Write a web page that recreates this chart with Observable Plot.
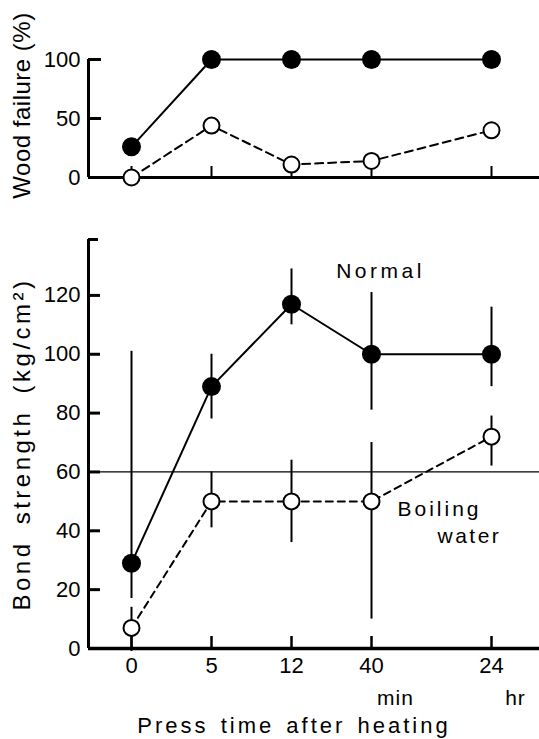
<!DOCTYPE html>
<html>
<head>
<meta charset="utf-8">
<script src="https://cdn.jsdelivr.net/npm/d3@7"></script>
<script src="https://cdn.jsdelivr.net/npm/@observablehq/plot@0.6"></script>
<style>
  html, body { margin: 0; padding: 0; background: #fff; }
  #chart { position: relative; width: 539px; height: 739px; background: #fff; }
  #chart svg { display: block; }
</style>
</head>
<body>
<div id="chart"></div>
<script>
// ---- data ----
const times = ["0", "5", "12", "40", "24"];
const units = ["", "", "", "min", "hr"];
const pos = [0, 1, 2, 3, 4.5];            // category slots (24 hr set apart)

const woodNormal  = [26, 100, 100, 100, 100];
const woodBoiling = [0, 44, 11, 14, 40];

const bondNormal      = [29, 89, 117, 100, 100];
const bondNormalLow   = [17, 78, 110, 81, 89];
const bondNormalHigh  = [101, 100, 129, 121, 116];
const bondBoiling     = [7, 50, 50, 50, 72];
const bondBoilingLow  = [-1, 41, 36, 10, 62];
const bondBoilingHigh = [14, 60, 64, 70, 79];

const refLine = 60;
const woodTicks = [0, 50, 100];
const bondTicks = [0, 20, 40, 60, 80, 100, 120];
const bondTop = 139;

const woodLabel = "Wood failure (%)";
const bondLabel = "Bond strength (kg/cm\u00B2)";
const xLabel = "Press time after heating";
const normalLabel = "Normal";
const boilingLabel = ["Boiling", "water"];

// ---- tables ----
const rows = times.map((t, i) => ({
  pos: pos[i], time: t, unit: units[i],
  woodN: woodNormal[i], woodB: woodBoiling[i],
  bondN: bondNormal[i], bondNLo: bondNormalLow[i], bondNHi: bondNormalHigh[i],
  bondB: bondBoiling[i], bondBLo: bondBoilingLow[i], bondBHi: bondBoilingHigh[i]
}));
const xDomain = [-0.5375, 5.1];
const font = "'Liberation Sans', Arial, sans-serif";
const tickLabel = d => times[pos.indexOf(d)];

const topPlot = Plot.plot({
  width: 539, height: 200,
  marginLeft: 88, marginRight: 0, marginTop: 59, marginBottom: 23,
  x: {domain: xDomain, label: null},
  y: {domain: [0, 100], label: null},
  style: {fontFamily: font, fontSize: "22px", color: "black", background: "white", overflow: "visible"},
  marks: [
    Plot.ruleX([xDomain[0]], {y1: 0, y2: 100, strokeWidth: 3}),
    Plot.ruleY([0], {strokeWidth: 3}),
    Plot.axisY({ticks: woodTicks, tickSize: 13, dx: 13, tickFormat: () => "", strokeWidth: 3, label: null}),
    Plot.axisY({ticks: woodTicks, tickSize: 0, tickPadding: 8, fontSize: 22, label: null}),
    Plot.axisX({ticks: pos, tickSize: 11, dy: -11, tickFormat: () => "", strokeWidth: 2, label: null}),
    Plot.text([woodLabel], {frameAnchor: "left", textAnchor: "middle", rotate: -90, dx: -66, dy: -13, fontSize: 24}),
    Plot.line(rows, {x: "pos", y: "woodN", stroke: "black", strokeWidth: 2}),
    Plot.line(rows, {x: "pos", y: "woodB", stroke: "black", strokeWidth: 2, strokeDasharray: "8,5"}),
    Plot.dot(rows, {x: "pos", y: "woodN", r: 9.5, fill: "black"}),
    Plot.dot(rows, {x: "pos", y: "woodB", r: 8, fill: "white", stroke: "black", strokeWidth: 2})
  ]
});

const bottomPlot = Plot.plot({
  width: 539, height: 539,
  marginLeft: 88, marginRight: 0, marginTop: 39, marginBottom: 91,
  x: {domain: xDomain, label: null},
  y: {domain: [0, bondTop], label: null},
  style: {fontFamily: font, fontSize: "22px", color: "black", background: "white", overflow: "visible"},
  marks: [
    Plot.ruleY([refLine], {strokeWidth: 1.3}),
    Plot.ruleX([xDomain[0]], {y1: 0, y2: bondTop, strokeWidth: 3}),
    Plot.ruleY([0], {strokeWidth: 3.5}),
    Plot.axisY({ticks: bondTicks, tickSize: 12, dx: 12, tickFormat: () => "", strokeWidth: 3, label: null}),
    Plot.axisY({ticks: [bondTop], tickSize: 10, dx: 10, tickFormat: () => "", strokeWidth: 3, label: null}),
    Plot.axisY({ticks: bondTicks, tickSize: 0, tickPadding: 8, fontSize: 22, label: null}),
    Plot.axisX({ticks: pos, tickSize: 12, dy: -12, tickFormat: () => "", strokeWidth: 2.5, label: null}),
    Plot.axisX({ticks: pos, tickSize: 0, tickPadding: 9, tickFormat: tickLabel, fontSize: 22, label: null}),
    Plot.text(rows.filter(d => d.unit), {x: "pos", text: "unit", frameAnchor: "bottom", lineAnchor: "middle", dx: 24, dy: 50, fontSize: 21}),
    Plot.text([xLabel], {frameAnchor: "bottom", textAnchor: "middle", lineAnchor: "middle", dx: -20, dy: 77, fontSize: 22}),
    Plot.text([bondLabel], {frameAnchor: "left", textAnchor: "middle", rotate: -90, dx: -66, fontSize: 24}),
    Plot.line(rows, {x: "pos", y: "bondN", stroke: "black", strokeWidth: 2}),
    Plot.line(rows, {x: "pos", y: "bondB", stroke: "black", strokeWidth: 2, strokeDasharray: "7,5"}),
    Plot.ruleX(rows, {x: "pos", y1: "bondNLo", y2: "bondNHi", strokeWidth: 2}),
    Plot.ruleX(rows, {x: "pos", y1: "bondBLo", y2: "bondBHi", strokeWidth: 2}),
    Plot.dot(rows, {x: "pos", y: "bondN", r: 9.5, fill: "black"}),
    Plot.dot(rows, {x: "pos", y: "bondB", r: 8, fill: "white", stroke: "black", strokeWidth: 2}),
    Plot.text([rows[3]], {x: "pos", y: "bondN", text: () => normalLabel, dx: 9, dy: -83, fontSize: 21}),
    Plot.text([rows[3]], {x: "pos", y: "bondB", text: () => boilingLabel[0], textAnchor: "start", dx: 26, dy: 8, fontSize: 21}),
    Plot.text([rows[3]], {x: "pos", y: "bondB", text: () => boilingLabel[1], textAnchor: "start", dx: 66, dy: 35, fontSize: 21})
  ]
});

const chart = document.getElementById("chart");
chart.appendChild(topPlot);
chart.appendChild(bottomPlot);

// letter spacing to mimic the spaced lettering of the original
const spacing = new Map([
  [woodLabel, ["0.5px", "0px"]], [bondLabel, ["3.5px", "6px"]], [xLabel, ["3px", "3px"]],
  [normalLabel, ["3.5px", "0px"]], [boilingLabel[0], ["3px", "0px"]], [boilingLabel[1], ["2.5px", "0px"]],
  ["min", ["1px", "0px"]], ["hr", ["1px", "0px"]]
]);
d3.select(chart).selectAll("text").each(function () {
  const s = spacing.get(this.textContent);
  if (s) { this.style.letterSpacing = s[0]; this.style.wordSpacing = s[1]; }
});
</script>
</body>
</html>
